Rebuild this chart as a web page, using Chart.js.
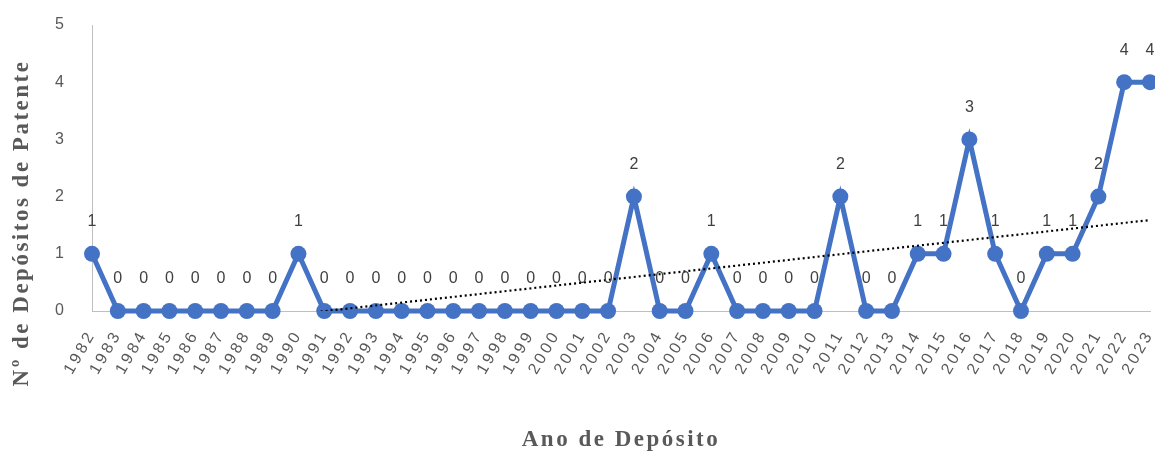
<!DOCTYPE html>
<html>
<head>
<meta charset="utf-8">
<script src="https://cdn.jsdelivr.net/npm/chart.js@4/dist/chart.umd.min.js"></script>
<style>
  html, body { margin: 0; padding: 0; background: #fff; }
</style>
</head>
<body>
<canvas id="patentChart" width="1155" height="457"></canvas>
<script>
var patentCanv = document.getElementById("patentChart");

// years and number of filings per year
var years = ["1982","1983","1984","1985","1986","1987","1988","1989","1990","1991",
  "1992","1993","1994","1995","1996","1997","1998","1999","2000","2001","2002",
  "2003","2004","2005","2006","2007","2008","2009","2010","2011","2012","2013",
  "2014","2015","2016","2017","2018","2019","2020","2021","2022","2023"];
var deposits = [1,0,0,0,0,0,0,0,1,0,
  0,0,0,0,0,0,0,0,0,0,0,
  2,0,0,1,0,0,0,0,2,0,0,
  1,1,3,1,0,1,1,2,4,4];

// linear trend line, ends (start is below the axis, gets clipped)
var trendStart = -0.45;
var trendEnd = 1.59;
var trend = years.map(function(y, i) {
  if (i === 0) return trendStart;
  if (i === years.length - 1) return trendEnd;
  return null;
});

var yTicks = [0,1,2,3,4,5];

//the original text is quite spread out, so add letter spacing to title / labels
function spreadText(scale, method, spacing, shiftY) {
  if (scale['_spread_' + method]) return;
  var orig = scale[method];
  scale[method] = function() {
    var ctx = this.ctx;
    ctx.save();
    ctx.letterSpacing = spacing;
    if (shiftY) ctx.translate(0, shiftY);
    orig.apply(this, arguments);
    ctx.restore();
  };
  scale['_spread_' + method] = true;
}

//draw the value above every point
var valueLabels = {
  id: 'valueLabels',
  afterDatasetsDraw: function(chart) {
    var ctx = chart.ctx;
    var meta = chart.getDatasetMeta(0);
    ctx.save();
    ctx.font = '16px "Liberation Sans", Arial, sans-serif';
    ctx.fillStyle = '#404040';
    ctx.textAlign = 'center';
    ctx.textBaseline = 'middle';
    meta.data.forEach(function(pt, i) {
      ctx.fillText(String(deposits[i]), pt.x, pt.y - 32);
    });
    ctx.restore();
  }
};

var patentPlot = new Chart(patentCanv, {
  type: 'line',
  data: {
    labels: years,
    datasets: [{
      label: 'Depósitos',
      data: deposits,
      borderColor: '#4472C4',
      backgroundColor: '#4472C4',
      borderWidth: 5,
      pointRadius: 8,
      pointHoverRadius: 8,
      pointBackgroundColor: '#4472C4',
      pointBorderWidth: 0,
      tension: 0,
      clip: false,
      order: 1
    },
    {
      label: 'Linear',
      data: trend,
      borderColor: '#000000',
      borderWidth: 2.2,
      borderDash: [2, 3],
      pointRadius: 0,
      spanGaps: true,
      fill: false,
      order: 0
    }]
  },
  options: {
    responsive: false,
    animation: false,
    layout: { autoPadding: false, padding: { top: 25, right: 5, left: 0, bottom: 0 } },
    plugins: {
      legend: { display: false },
      tooltip: { enabled: false }
    },
    scales: {
      x: {
        offset: false,
        grid: { drawOnChartArea: false, drawTicks: false },
        border: { color: '#bfbfbf', width: 1 },
        ticks: {
          autoSkip: false,
          minRotation: 60,
          maxRotation: 60,
          padding: 16,
          color: '#595959',
          font: { family: '"Liberation Sans", Arial, sans-serif', size: 16 }
        },
        title: {
          display: true,
          text: 'Ano de Depósito',
          color: '#595959',
          font: { family: '"Liberation Serif", "Times New Roman", serif', size: 23, weight: 'bold' },
          padding: { top: 0, bottom: 3 }
        },
        afterFit: function(scale) {
          scale.height = 146;
          scale.paddingLeft = 0;
          scale.paddingRight = 0;
          spreadText(scale, 'drawLabels', '3px');
          spreadText(scale, 'drawTitle', '2.5px');
        }
      },
      y: {
        min: 0,
        max: 5,
        grid: { drawOnChartArea: false, drawTicks: false },
        border: { color: '#bfbfbf', width: 1 },
        afterBuildTicks: function(scale) {
          scale.ticks = yTicks.map(function(v) { return { value: v }; });
        },
        ticks: {
          padding: 28,
          color: '#595959',
          font: { family: '"Liberation Sans", Arial, sans-serif', size: 16 }
        },
        title: {
          display: true,
          text: 'Nº de Depósitos de Patente',
          color: '#595959',
          font: { family: '"Liberation Serif", "Times New Roman", serif', size: 23, weight: 'bold' },
          padding: { top: 8, bottom: 0 }
        },
        afterFit: function(scale) {
          scale.width = 92;
          scale.paddingTop = 0;
          scale.paddingBottom = 0;
          spreadText(scale, 'drawTitle', '2.5px', 55);
        }
      }
    }
  },
  plugins: [valueLabels]
});
</script>
</body>
</html>
